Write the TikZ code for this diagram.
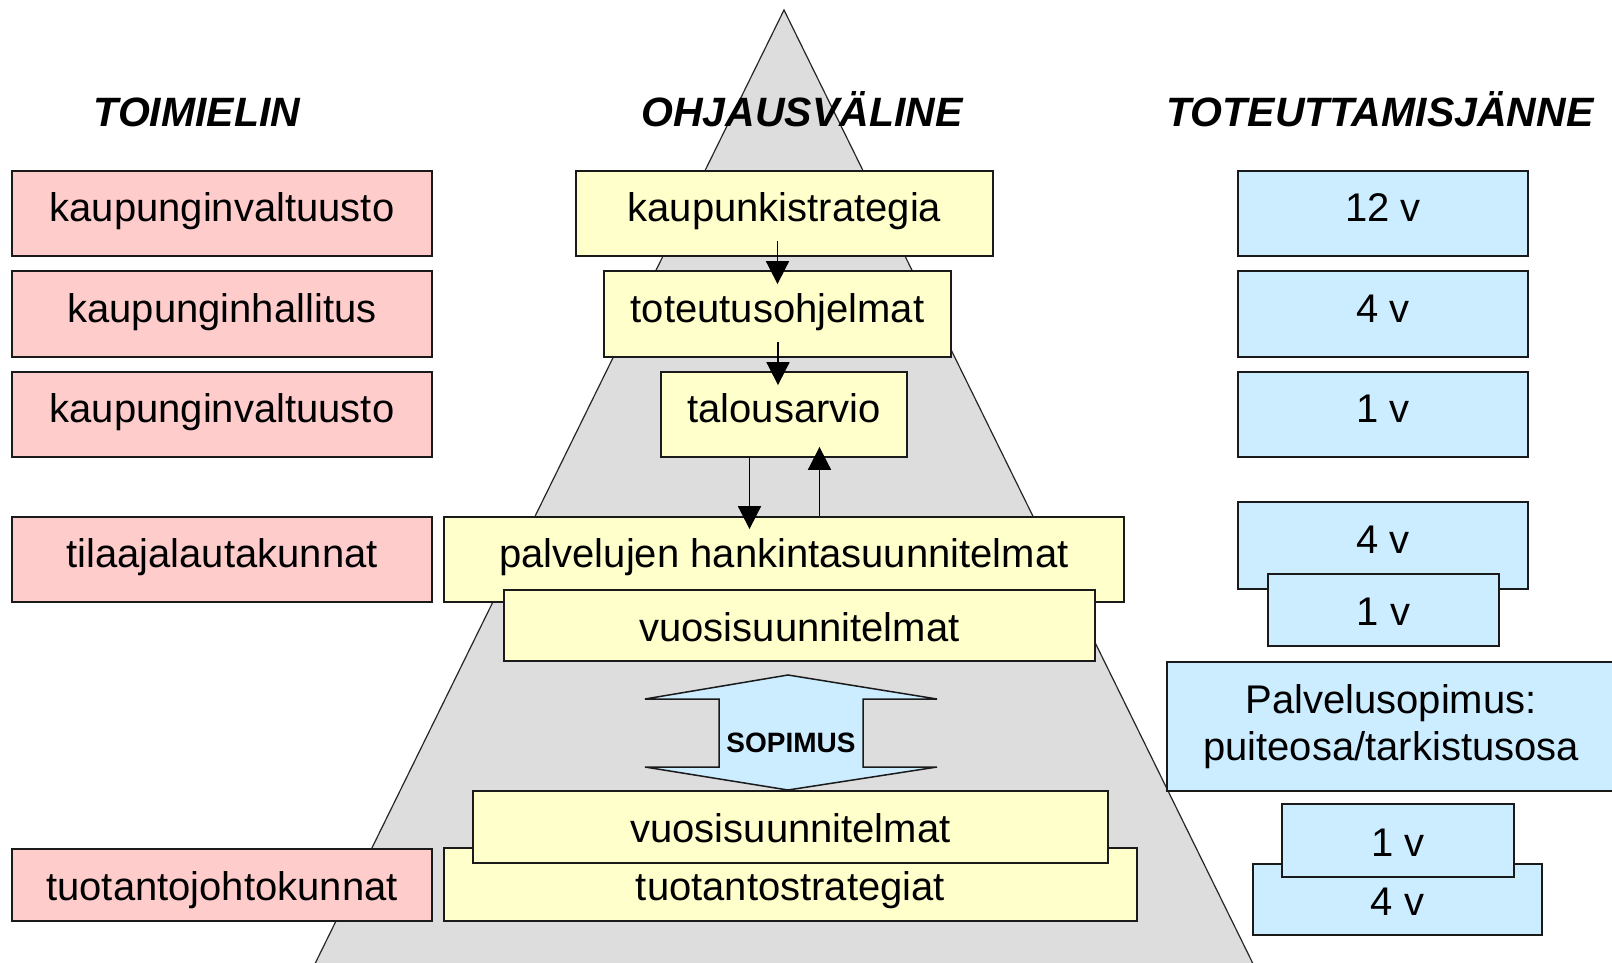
\documentclass[tikz,border=0pt]{standalone}
\usepackage{fontspec}
\setmainfont{Liberation Sans}
\usetikzlibrary{arrows.meta,calc}
\definecolor{pinkc}{HTML}{FFCCCC}
\definecolor{yelc}{HTML}{FFFFCC}
\definecolor{bluec}{HTML}{CCECFF}
\definecolor{grayc}{HTML}{DDDDDD}
\definecolor{edgec}{HTML}{1A1A1A}
\begin{document}
\begin{tikzpicture}[x=1pt,y=-1pt,
  box/.style={draw=edgec,line width=1.8pt,inner sep=0pt,font=\fontsize{40}{47}\selectfont,text height=24pt,text depth=8pt},
  shortbox/.style={text height=39pt},
  pinkbox/.style={box,fill=pinkc},
  yelbox/.style={box,fill=yelc},
  bluebox/.style={box,fill=bluec},
  head/.style={font=\fontsize{41}{48}\selectfont\bfseries\itshape,anchor=base,inner sep=0pt},
  arr/.style={line width=1.8pt,-{Triangle[length=23pt,width=23pt]}},
]
\useasboundingbox (0,0) rectangle (1612,963);
\clip (0,0) rectangle (1612,963);
\fill[white] (0,0) rectangle (1612,963);
% pyramid
\draw[fill=grayc,draw=black!85,line width=1.2pt] (784,10) -- (1261,980) -- (307,980) -- cycle;
% headers
\node[head] (h1) at (197,127) {TOIMIELIN};
\node[head] (h2) at (802,127) {OHJAUSVÄLINE};
\node[head] (h3) at (1380,127) {TOTEUTTAMISJÄNNE};
% left column
\node[pinkbox,minimum width=420,minimum height=85] (p1) at (222,213.5) {kaupunginvaltuusto};
\node[pinkbox,minimum width=420,minimum height=86] (p2) at (222,314) {kaupunginhallitus};
\node[pinkbox,minimum width=420,minimum height=85] (p3) at (222,414.5) {kaupunginvaltuusto};
\node[pinkbox,minimum width=420,minimum height=85] (p4) at (222,559.5) {tilaajalautakunnat};
\node[pinkbox,shortbox,minimum width=420,minimum height=72] (p5) at (222,885) {tuotantojohtokunnat};
% middle column
\node[yelbox,minimum width=417,minimum height=85] (y1) at (784.5,213.5) {kaupunkistrategia};
\node[yelbox,minimum width=347,minimum height=86] (y2) at (777.5,314) {toteutusohjelmat};
\node[yelbox,minimum width=246,minimum height=85] (y3) at (784,414.5) {talousarvio};
\node[yelbox,minimum width=680,minimum height=85] (y4) at (784,559.5) {palvelujen hankintasuunnitelmat};
\node[yelbox,shortbox,minimum width=591,minimum height=71] (y5) at (799.5,625.5) {vuosisuunnitelmat};
\node[yelbox,shortbox,minimum width=693,minimum height=73] (y7) at (790.5,884.5) {tuotantostrategiat};
\node[yelbox,shortbox,minimum width=635,minimum height=72] (y6) at (790.5,827) {vuosisuunnitelmat};
% sopimus double arrow
\filldraw[fill=bluec,draw=edgec,line width=1.5pt] (645,699) -- (788,675) -- (937,699) -- (863,699) -- (863,767) -- (937,767) -- (788,790) -- (645,767) -- (719,767) -- (719,699) -- cycle;
\node[font=\fontsize{28}{32}\selectfont\bfseries,inner sep=0pt] (sop) at (791,743) {SOPIMUS};
% right column
\node[bluebox,minimum width=290,minimum height=85] (b1) at (1383,213.5) {12 v};
\node[bluebox,minimum width=290,minimum height=86] (b2) at (1383,314) {4 v};
\node[bluebox,minimum width=290,minimum height=85] (b3) at (1383,414.5) {1 v};
\node[bluebox,minimum width=290,minimum height=87] (b4) at (1383,545.5) {4 v};
\node[bluebox,shortbox,minimum width=231,minimum height=72] (b5) at (1383.5,610) {1 v};
\node[bluebox,align=center,text height=,text depth=,minimum width=448,minimum height=129] (b6) at (1391,726.5) {Palvelusopimus:\\puiteosa/tarkistusosa};
\node[bluebox,shortbox,minimum width=289,minimum height=71] (b8) at (1397.5,899.5) {4 v};
\node[bluebox,shortbox,minimum width=232,minimum height=73] (b7) at (1398,840.5) {1 v};
% arrows
\draw[arr] ($(y2.north)+(0,-29)$) -- ($(y2.north)+(0,14)$);
\draw[arr] ($(y3.north)+(-6,-29)$) -- ($(y3.north)+(-6,14)$);
\draw[arr] ($(y3.south)+(-34.5,0)$) -- ($(y4.north)+(-34.5,13)$);
\draw[arr] ($(y4.north)+(35.5,0)$) -- ($(y3.south)+(35.5,-11)$);
\end{tikzpicture}
\end{document}
